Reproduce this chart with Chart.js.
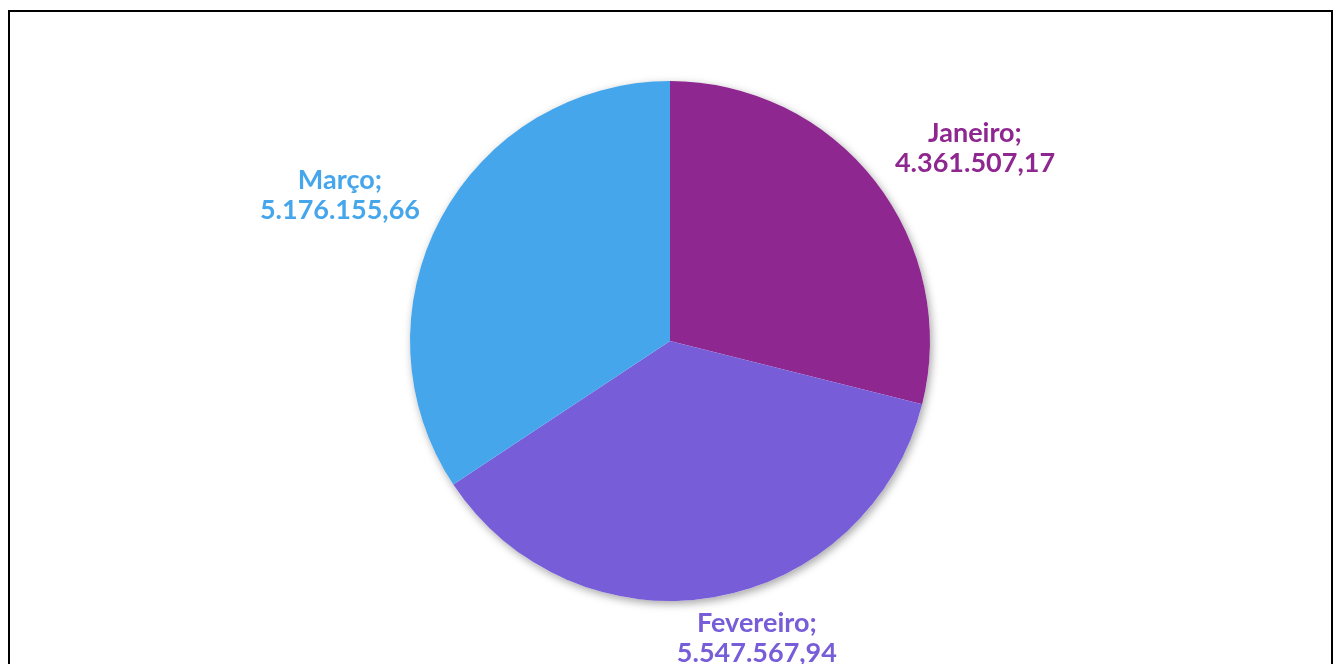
<!DOCTYPE html>
<html>
<head>
<meta charset="utf-8">
<script src="https://cdn.jsdelivr.net/npm/chart.js@4.4.1/dist/chart.umd.min.js"></script>
<style>
  html, body { margin: 0; padding: 0; background: #fff; overflow: hidden; }
  #wrap { position: relative; width: 1338px; height: 664px; }
  #frame { position: absolute; left: 8px; top: 10px; width: 1325px; height: 700px;
           border: 2px solid #000; box-sizing: border-box; }
  canvas { position: absolute; left: 0; top: 0; }
</style>
</head>
<body>
<div id="wrap">
  <div id="frame"></div>
  <canvas id="pieChart" width="1338" height="664"></canvas>
</div>
<script>
const months = ['Janeiro', 'Fevereiro', 'Março'];
const totals = [4361507.17, 5547567.94, 5176155.66];
const valueLabels = ['4.361.507,17', '5.547.567,94', '5.176.155,66'];
const sliceColors = ['#8E278F', '#775DD8', '#46A6EC'];

// nudges for each label, measured from the slice's outer edge at mid angle
const labelNudge = [[100, -33], [43, 41], [-101, -23]];

// soft drop shadow behind the whole pie
const pieShadow = {
  id: 'pieShadow',
  beforeDatasetsDraw(chart) {
    const arc = chart.getDatasetMeta(0).data[0];
    if (!arc) return;
    const ctx = chart.ctx;
    ctx.save();
    ctx.shadowColor = 'rgba(0,0,0,0.35)';
    ctx.shadowBlur = 9;
    ctx.shadowOffsetX = 2;
    ctx.shadowOffsetY = 3;
    ctx.fillStyle = '#fff';
    ctx.beginPath();
    ctx.arc(arc.x, arc.y, arc.outerRadius, 0, Math.PI * 2);
    ctx.fill();
    ctx.restore();
  }
};

// "Month;\nvalue" labels outside the slices
const sliceLabels = {
  id: 'sliceLabels',
  afterDatasetsDraw(chart) {
    const ctx = chart.ctx;
    chart.getDatasetMeta(0).data.forEach((arc, i) => {
      const mid = (arc.startAngle + arc.endAngle) / 2;
      const x = arc.x + Math.cos(mid) * arc.outerRadius + labelNudge[i][0];
      const y = arc.y + Math.sin(mid) * arc.outerRadius + labelNudge[i][1];
      ctx.save();
      ctx.font = 'bold 27px Lato';
      ctx.fillStyle = sliceColors[i];
      ctx.textAlign = 'center';
      ctx.textBaseline = 'middle';
      ctx.fillText(months[i] + ';', x, y - 15);
      ctx.fillText(valueLabels[i], x, y + 15);
      ctx.restore();
    });
  }
};

new Chart(document.getElementById('pieChart'), {
  type: 'pie',
  data: {
    labels: months,
    datasets: [{
      data: totals,
      backgroundColor: sliceColors,
      borderWidth: 0
    }]
  },
  options: {
    responsive: false,
    animation: false,
    layout: { padding: { top: 81, bottom: 63, left: 2, right: 0 } },
    plugins: {
      legend: { display: false },
      tooltip: { enabled: false }
    }
  },
  plugins: [pieShadow, sliceLabels]
});
</script>
</body>
</html>
